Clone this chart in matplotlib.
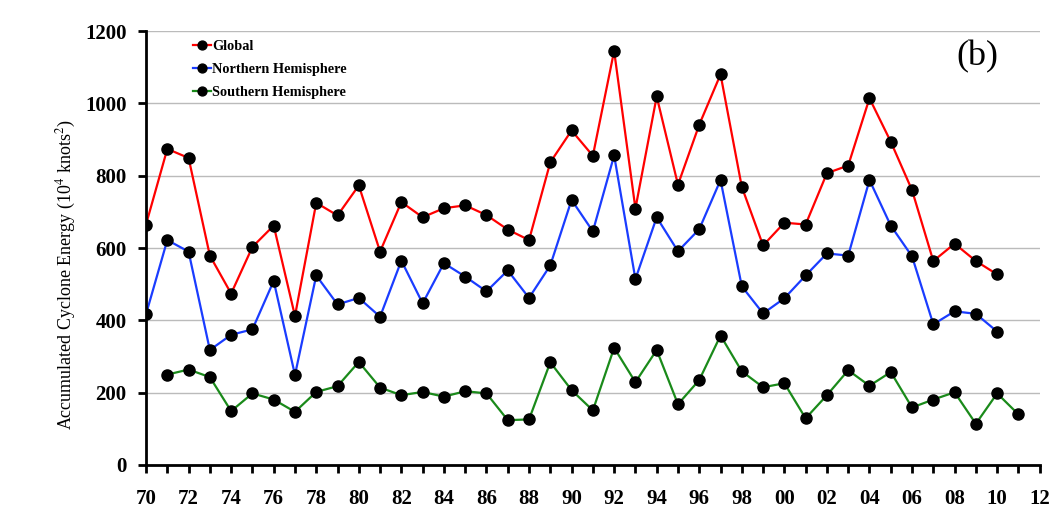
import numpy as np
import matplotlib
matplotlib.use("Agg")
import matplotlib.pyplot as plt

plt.rcParams["font.family"] = ["Liberation Serif", "DejaVu Serif"]
plt.rcParams["mathtext.fontset"] = "stix"

# ---------------------------------------------------------
# Data
# ---------------------------------------------------------
years_g = list(range(1970, 2011))
years_s = list(range(1971, 2012))

ace_global = [665, 874, 849, 579, 474, 603, 662, 412, 725, 690,
              773, 590, 727, 685, 710, 718, 691, 651, 622, 837,
              925, 855, 1145, 709, 1019, 775, 941, 1080, 769, 607,
              670, 665, 807, 828, 1014, 894, 760, 564, 612, 564,
              527]

ace_north = [417, 622, 590, 318, 360, 375, 509, 249, 524, 444,
             462, 410, 565, 447, 558, 521, 480, 538, 462, 552,
             733, 646, 856, 514, 685, 591, 652, 788, 494, 419,
             461, 524, 585, 579, 788, 662, 577, 389, 425, 418,
             369]

ace_south = [250, 264, 243, 149, 198, 181, 147, 202, 218, 285,
             214, 193, 202, 189, 204, 198, 124, 126, 284, 207,
             151, 324, 229, 318, 168, 235, 358, 259, 215, 226,
             129, 193, 262, 219, 257, 159, 181, 201, 114, 198,
             140]

tick_years = list(range(1970, 2013, 2))
tick_labels = [f"{y % 100:02d}" for y in tick_years]
y_ticks = [0, 200, 400, 600, 800, 1000, 1200]


# ---------------------------------------------------------
# Plot
# ---------------------------------------------------------
fig = plt.figure(figsize=(10.62, 5.24), dpi=100)
ax = fig.add_axes([0.1375, 0.1126, 0.8415, 0.8282])

mk = dict(marker="o", markersize=8, markerfacecolor="black",
          markeredgecolor="black", linewidth=1.6)

ax.plot(years_g, ace_global, color="#ff0000", label="Global", **mk)
ax.plot(years_g, ace_north, color="#1a3cff", label="Northern Hemisphere", **mk)
ax.plot(years_s, ace_south, color="#1a8a1a", label="Southern Hemisphere", **mk)

ax.set_xlim(1970, 2012)
ax.set_ylim(0, 1200)

ax.set_xticks(range(1970, 2013), minor=True)
ax.set_xticks(tick_years)
ax.set_xticklabels(tick_labels)
ax.set_yticks(y_ticks)

for lab in ax.get_xticklabels() + ax.get_yticklabels():
    lab.set_fontweight("bold")
    lab.set_fontsize(15)

ax.tick_params(axis="both", which="both", direction="out", length=6,
               width=2, color="black")
ax.tick_params(axis="x", which="major", pad=11)
ax.tick_params(axis="y", which="major", pad=8)

ax.grid(axis="y", color="#bbbbbb", linewidth=1.0)
ax.set_axisbelow(True)

for side in ("top", "right"):
    ax.spines[side].set_visible(False)
for side in ("left", "bottom"):
    ax.spines[side].set_linewidth(2)
    ax.spines[side].set_zorder(5)

ax.set_ylabel(r"Accumulated Cyclone Energy (10$^4$ knots$^2$)", fontsize=13)
ax.yaxis.set_label_coords(-0.076, 0.438)

leg = ax.legend(loc="upper left", bbox_to_anchor=(0.038, 1.01), frameon=False,
                prop={"weight": "bold", "size": 10.3}, handlelength=1.3,
                handletextpad=0.05, labelspacing=0.72, markerscale=0.8)

ax.text(0.9306, 0.94, "(b)", transform=ax.transAxes, fontsize=26,
        ha="center", va="center")

fig.savefig("out.png", dpi=100)
